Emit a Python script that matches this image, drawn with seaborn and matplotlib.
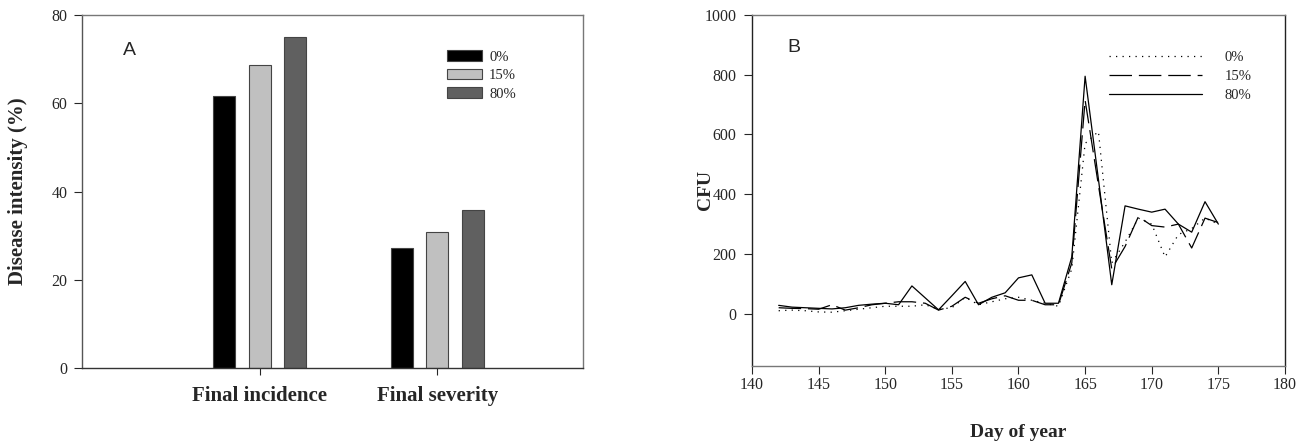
import pandas as pd
import seaborn as sns
import matplotlib.pyplot as plt

# Panel A data
measures = ['Final incidence', 'Final severity']
shades = ['0%', '15%', '80%']
incidence = [61.6, 68.6, 75.1]
severity = [27.3, 30.8, 35.7]

# Panel B data (CFU by day of year)
days = list(range(142, 176))
cfu_0 = [10, 12, 10, 6, 5, 10, 15, 20, 25, 25, 25, 30, 15, 20, 55, 30, 40, 50, 55, 45,
         35, 25, 150, 570, 610, 170, 240, 320, 300, 190, 265, 285, 320, 300]
cfu_15 = [20, 18, 17, 15, 30, 12, 20, 30, 35, 40, 40, 35, 12, 25, 55, 35, 50, 60, 45, 45,
          30, 30, 170, 715, 430, 150, 225, 325, 295, 290, 300, 220, 320, 305]
cfu_80 = [28, 22, 20, 18, 16, 20, 28, 32, 35, 30, 93, 53, 13, 60, 108, 30, 55, 70, 120, 130,
          35, 35, 190, 795, 450, 97, 361, 350, 340, 350, 300, 273, 375, 300]

bar_colors = ['#000000', '#c0c0c0', '#606060']

sns.set_style('ticks')
plt.rcParams['font.family'] = ['Liberation Serif', 'DejaVu Serif']

fig = plt.figure(figsize=(13.04, 4.41), dpi=100)
ax_a = fig.add_axes([0.0629, 0.1655, 0.3842, 0.8005])
ax_b = fig.add_axes([0.5767, 0.1701, 0.4087, 0.7959])

# ---- Panel A: grouped bars
df_a = pd.DataFrame({
    'measure': [m for m in measures for _ in shades],
    'shade': shades * len(measures),
    'value': incidence + severity,
})
sns.barplot(data=df_a, x='measure', y='value', hue='shade', hue_order=shades,
            palette=bar_colors, width=0.6, gap=0.38, errorbar=None,
            edgecolor='#444444', linewidth=0.8, saturation=1, ax=ax_a)
ax_a.set_xlim(-1.0, 1.82)
ax_a.set_ylim(0, 80)
ax_a.set_yticks(range(0, 81, 20))
ax_a.set_xlabel('')
ax_a.set_ylabel('Disease intensity (%)', fontsize=15, fontweight='bold')
ax_a.yaxis.set_label_coords(-0.107, 0.5)
ax_a.tick_params(axis='x', length=5, pad=8, labelsize=15)
ax_a.tick_params(axis='y', length=5.5, pad=5, labelsize=11.5)
for lab in ax_a.get_xticklabels():
    lab.set_fontweight('bold')
handles, labels = ax_a.get_legend_handles_labels()
ax_a.legend(handles, labels, loc='upper left', bbox_to_anchor=(0.728, 0.9),
            frameon=False, fontsize=10.5, handlelength=2.4, handleheight=0.72,
            handletextpad=0.5, labelspacing=0.36, borderpad=0, borderaxespad=0)
ax_a.text(0.082, 0.90, 'A', transform=ax_a.transAxes, fontsize=14,
          family='Liberation Sans', va='center', ha='left')

# ---- Panel B: CFU lines
df_b = pd.DataFrame({
    'day': days * 3,
    'cfu': cfu_0 + cfu_15 + cfu_80,
    'shade': ['0%'] * len(days) + ['15%'] * len(days) + ['80%'] * len(days),
})
sns.lineplot(data=df_b, x='day', y='cfu', style='shade', style_order=shades,
             dashes={'0%': (1, 4.2), '15%': (18, 5.5), '80%': ''},
             color='black', linewidth=0.9, ax=ax_b)
ax_b.set_xlim(140, 180)
ax_b.set_ylim(-175, 1000)
ax_b.set_xticks(range(140, 181, 5))
ax_b.set_yticks(range(0, 1001, 200))
ax_b.set_xlabel('Day of year', fontsize=14, fontweight='bold', labelpad=22)
ax_b.set_ylabel('CFU', fontsize=14, fontweight='bold')
ax_b.yaxis.set_label_coords(-0.072, 0.5)
ax_b.tick_params(axis='both', length=6, labelsize=11.5)
ax_b.tick_params(axis='x', pad=2)
ax_b.tick_params(axis='y', pad=5)
handles, labels = ax_b.get_legend_handles_labels()
ax_b.legend(handles, labels, loc='upper left', bbox_to_anchor=(0.67, 0.897),
            frameon=False, fontsize=10.5, handlelength=6.4, handletextpad=1.5,
            labelspacing=0.38, borderpad=0, borderaxespad=0)
ax_b.text(0.066, 0.906, 'B', transform=ax_b.transAxes, fontsize=14,
          family='Liberation Sans', va='center', ha='left')

# frame styling
for ax in (ax_a, ax_b):
    for side in ('top', 'right', 'left', 'bottom'):
        ax.spines[side].set_visible(True)
        ax.spines[side].set_linewidth(1.0)
ax_a.spines['left'].set_color('#555555')
ax_a.spines['bottom'].set_color('#333333')
ax_a.spines['top'].set_color('#777777')
ax_a.spines['right'].set_color('#777777')
ax_b.spines['left'].set_color('#222222')
ax_b.spines['right'].set_color('#222222')
ax_b.spines['top'].set_color('#777777')
ax_b.spines['bottom'].set_color('#777777')

fig.savefig('out.png', dpi=100)
